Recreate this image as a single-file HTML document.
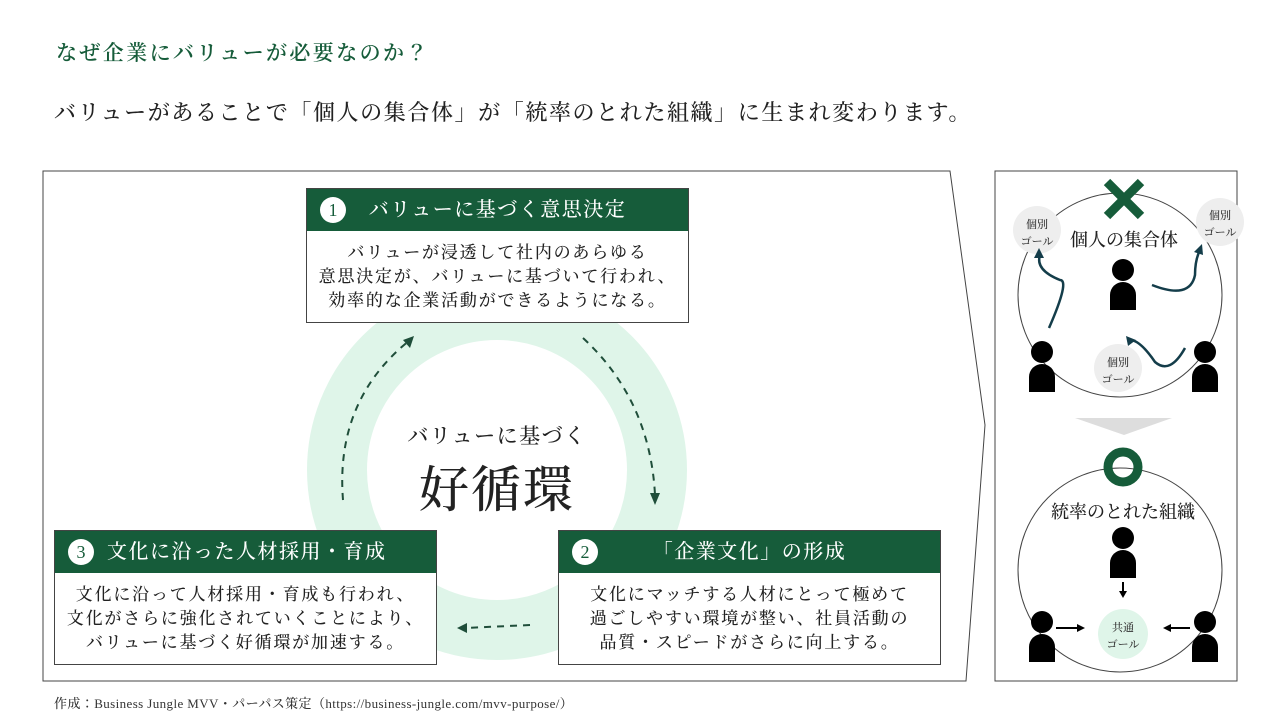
<!DOCTYPE html>
<html><head><meta charset="utf-8"><style>
body{margin:0;width:1280px;height:720px;background:#fff;position:relative;overflow:hidden;font-family:"Liberation Serif","Noto Serif CJK JP","Noto Serif CJK SC",serif;color:#222}
.a{position:absolute}
.box{position:absolute;width:381px;height:133px;border:1px solid #444;background:#fff}
.hd{height:42px;background:#165c3a;color:#fff;font-size:20px;line-height:42px;position:relative;text-align:center;letter-spacing:1.5px;font-weight:500}
.num{position:absolute;left:13px;top:8px;width:26px;height:26px;border-radius:50%;background:#fff;color:#165c3a;font-size:18px;line-height:26px;text-align:center;letter-spacing:0}
.bd{text-align:center;font-size:17px;line-height:24px;padding-top:10px;letter-spacing:1.8px;font-weight:500;white-space:nowrap}
</style></head><body>
<div class="a" style="left:56px;top:37px;font-size:21px;color:#165c3a;letter-spacing:2.4px;font-weight:600">なぜ企業にバリューが必要なのか？</div>
<div class="a" style="left:54px;top:96px;font-size:22px;letter-spacing:1.6px;font-weight:500">バリューがあることで「個人の集合体」が「統率のとれた組織」に生まれ変わります。</div>
<svg class="a" style="left:0;top:0" width="1280" height="720">
<polygon points="43,171 950,171 985,425 966,681 43,681" fill="none" stroke="#444" stroke-width="1"/>
<circle cx="497" cy="470" r="160" fill="none" stroke="#dff5e9" stroke-width="60"/>
<g fill="none" stroke="#1f4e3a" stroke-width="2" stroke-dasharray="7,6">
<path d="M583,338 Q650,400 655,495"/>
<path d="M530,625 L465,628"/>
<path d="M343,500 Q335,400 410,340"/>
</g>
<g fill="#1f4e3a">
<polygon points="655,505 650,493 660,493"/>
<polygon points="457,628 467,623 467,633"/>
<polygon points="414,336 410,348 403,340"/>
</g>
<rect x="995" y="171" width="242" height="510" fill="none" stroke="#444"/>
<circle cx="1120" cy="295" r="102" fill="none" stroke="#444"/>
<circle cx="1120" cy="570" r="102" fill="none" stroke="#444"/>
<polygon points="1075,418 1172,418 1124,435" fill="#ddd"/>
<g stroke="#165c3a" stroke-width="9"><line x1="1107" y1="182" x2="1141" y2="216"/><line x1="1141" y1="182" x2="1107" y2="216"/></g>
<circle cx="1123" cy="467" r="15" fill="none" stroke="#165c3a" stroke-width="9"/>
<g fill="#eee"><circle cx="1037" cy="230" r="24"/><circle cx="1220" cy="222" r="24"/><circle cx="1118" cy="368" r="24"/></g>
<circle cx="1123" cy="634" r="25" fill="#dff5e9"/>
<g fill="none" stroke="#143d4a" stroke-width="2.5">
<path d="M1049,328 Q1070,280 1060,280 Q1035,270 1040,255"/>
<path d="M1152,285 Q1190,300 1195,275 Q1195,260 1200,250"/>
<path d="M1185,348 Q1170,375 1155,362 Q1140,340 1130,340"/>
</g>
<g fill="#143d4a"><polygon points="1039,248 1034,258 1044,258"/><polygon points="1202,244 1194,252 1203,255"/><polygon points="1128,346 1126,336 1136,340"/></g>
<g fill="#000">
<g transform="translate(1123,270)"><circle r="11"/><path d="M-13,40 V25 A13,13 0 0 1 13,25 V40Z"/></g>
<g transform="translate(1042,352)"><circle r="11"/><path d="M-13,40 V25 A13,13 0 0 1 13,25 V40Z"/></g>
<g transform="translate(1205,352)"><circle r="11"/><path d="M-13,40 V25 A13,13 0 0 1 13,25 V40Z"/></g>
<g transform="translate(1123,538)"><circle r="11"/><path d="M-13,40 V25 A13,13 0 0 1 13,25 V40Z"/></g>
<g transform="translate(1042,622)"><circle r="11"/><path d="M-13,40 V25 A13,13 0 0 1 13,25 V40Z"/></g>
<g transform="translate(1205,622)"><circle r="11"/><path d="M-13,40 V25 A13,13 0 0 1 13,25 V40Z"/></g>
</g>
<g stroke="#000" stroke-width="2"><line x1="1123" y1="582" x2="1123" y2="592"/><line x1="1056" y1="628" x2="1078" y2="628"/><line x1="1190" y1="628" x2="1170" y2="628"/></g>
<g fill="#000"><polygon points="1123,598 1119,591 1127,591"/><polygon points="1085,628 1077,624 1077,632"/><polygon points="1163,628 1171,624 1171,632"/></g>
<g font-family="Liberation Serif,Noto Serif CJK JP,serif" fill="#333" text-anchor="middle" font-size="11" font-weight="500">
<text x="1037" y="228">個別</text><text x="1037" y="245">ゴール</text>
<text x="1220" y="219">個別</text><text x="1220" y="236">ゴール</text>
<text x="1118" y="366">個別</text><text x="1118" y="383">ゴール</text>
<text x="1123" y="631">共通</text><text x="1123" y="648">ゴール</text>
</g>
<g font-family="Liberation Serif,Noto Serif CJK JP,serif" fill="#222" text-anchor="middle" font-size="18" font-weight="500">
<text x="1124" y="246">個人の集合体</text><text x="1123" y="518">統率のとれた組織</text>
</g>
</svg>
<div class="a" style="left:347px;top:420px;width:300px;text-align:center;font-size:21px;letter-spacing:1.5px;font-weight:500">バリューに基づく</div>
<div class="a" style="left:347px;top:450px;width:300px;text-align:center;font-size:50px;letter-spacing:2px;font-weight:500">好循環</div>
<div class="box" style="left:306px;top:188px"><div class="hd"><span class="num">1</span>バリューに基づく意思決定</div><div class="bd">バリューが浸透して社内のあらゆる<br>意思決定が、バリューに基づいて行われ、<br>効率的な企業活動ができるようになる。</div></div>
<div class="box" style="left:558px;top:530px"><div class="hd"><span class="num">2</span>「企業文化」の形成</div><div class="bd">文化にマッチする人材にとって極めて<br>過ごしやすい環境が整い、社員活動の<br>品質・スピードがさらに向上する。</div></div>
<div class="box" style="left:54px;top:530px"><div class="hd" style="text-align:left;padding-left:52px"><span class="num">3</span>文化に沿った人材採用・育成</div><div class="bd">文化に沿って人材採用・育成も行われ、<br>文化がさらに強化されていくことにより、<br>バリューに基づく好循環が加速する。</div></div>
<div class="a" style="left:54px;top:693px;font-size:13px;color:#333;letter-spacing:0.4px;font-weight:500">作成：Business Jungle MVV・パーパス策定（https://business-jungle.com/mvv-purpose/）</div>
</body></html>
